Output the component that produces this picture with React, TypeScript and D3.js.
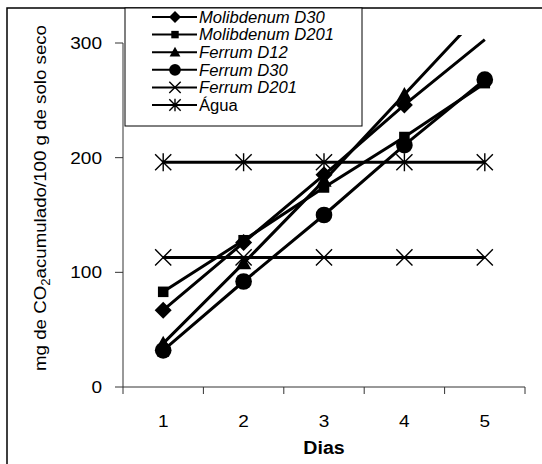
import React from "react";
import * as d3 from "d3";

const days = [1, 2, 3, 4, 5];
const yTicks = [0, 100, 200, 300];
const seriesNames = ["Molibdenum D30", "Molibdenum D201", "Ferrum D12", "Ferrum D30", "Ferrum D201", "Água"];
const molibdenumD30 = [67, 126, 185, 246, 303];
const molibdenumD201 = [83, 128, 174, 218, 265];
const ferrumD12 = [38, 108, 180, 255, 330];
const ferrumD30 = [32, 92, 150, 211, 268];
const ferrumD201 = [113, 113, 113, 113, 113];
const agua = [196, 196, 196, 196, 196];
const markers = ["diamond", "square", "triangle", "circle", "x", "asterisk"];

const seriesValues = [molibdenumD30, molibdenumD201, ferrumD12, ferrumD30, ferrumD201, agua];

const FONT = "'Liberation Sans', Arial, sans-serif";

function Marker({ type, x, y, s }: { type: string; x: number; y: number; s: number }) {
  const h = s / 2;
  switch (type) {
    case "diamond":
      return <path d={`M${x},${y - h}L${x + h},${y}L${x},${y + h}L${x - h},${y}Z`} fill="#000" />;
    case "square": {
      const q = h * 0.62;
      return <rect x={x - q} y={y - q} width={2 * q} height={2 * q} fill="#000" />;
    }
    case "triangle": {
      const w = h * 0.9;
      return <path d={`M${x},${y - w}L${x + w},${y + w * 0.8}L${x - w},${y + w * 0.8}Z`} fill="#000" />;
    }
    case "circle":
      return <circle cx={x} cy={y} r={h * 0.98} fill="#000" />;
    case "x": {
      const q = h * 0.95;
      return (
        <path d={`M${x - q},${y - q}L${x + q},${y + q}M${x - q},${y + q}L${x + q},${y - q}`} stroke="#000" strokeWidth={1.4} fill="none" />
      );
    }
    case "asterisk": {
      const q = h * 0.95;
      return (
        <path
          d={`M${x - q},${y - q}L${x + q},${y + q}M${x - q},${y + q}L${x + q},${y - q}M${x},${y - q * 1.1}L${x},${y + q * 1.1}`}
          stroke="#000"
          strokeWidth={1.4}
          fill="none"
        />
      );
    }
  }
  return null;
}

export default function App() {
  const W = 542;
  const H = 464;
  const x0 = 123;
  const x1 = 525;
  const xs = d3.scalePoint<number>().domain(days).range([x0, x1]).padding(0.5);
  const ys = d3.scaleLinear().domain([0, 300]).range([387, 43]);
  const step = xs.step();
  const line = d3
    .line<number>()
    .x((_, i) => xs(days[i]) as number)
    .y((d) => ys(d));

  const legendRowY = (i: number) => 17 + i * 17.6;

  return (
    <svg width={W} height={H} style={{ position: "absolute", left: 0, top: 0 }} fontFamily={FONT}>
      <defs>
        <clipPath id="plotClip">
          <rect x={x0} y={35} width={x1 - x0 + 20} height={387 - 35 + 10} />
        </clipPath>
      </defs>
      <rect x={0} y={0} width={W} height={H} fill="#fff" />
      <rect x={7} y={8} width={W} height={H} fill="none" stroke="#000" strokeWidth={1.5} />

      {/* axes */}
      <line x1={x0} x2={x0} y1={ys(300)} y2={ys(0)} stroke="#333" strokeWidth={1} />
      {yTicks.map((t) => (
        <g key={t}>
          <line x1={x0 - 8} x2={x0} y1={ys(t)} y2={ys(t)} stroke="#333" />
          <text transform={`translate(102,${ys(t)}) scale(1.12,1)`} dy="0.36em" textAnchor="end" fontSize={17}>
            {t}
          </text>
        </g>
      ))}
      <line x1={x0} x2={x1} y1={ys(0)} y2={ys(0)} stroke="#333" />
      {d3.range(days.length + 1).map((i) => (
        <line key={i} x1={x0 + i * step} x2={x0 + i * step} y1={ys(0)} y2={ys(0) + 7} stroke="#333" />
      ))}
      {days.map((d) => (
        <text key={d} transform={`translate(${xs(d)},427) scale(1.12,1)`} textAnchor="middle" fontSize={17}>
          {d}
        </text>
      ))}
      <text transform={`translate(${(x0 + x1) / 2},454) scale(1.12,1)`} textAnchor="middle" fontSize={17.5} fontWeight="bold">
        Dias
      </text>
      <text transform={`translate(46,198) rotate(-90) scale(1.1,1)`} textAnchor="middle" fontSize={17}>
        mg de CO
        <tspan fontSize={12} dy={4}>2</tspan>
        <tspan dy={-4}>acumulado/100 g de solo seco</tspan>
      </text>

      {/* series */}
      <g clipPath="url(#plotClip)">
        {seriesValues.map((vals, si) => (
          <path key={si} d={line(vals) as string} fill="none" stroke="#000" strokeWidth={3} />
        ))}
      </g>
      {seriesValues.map((vals, si) => (
        <g key={si}>
          {vals.map((v, i) =>
            v <= 300 ? <Marker key={i} type={markers[si]} x={xs(days[i]) as number} y={ys(v)} s={17} /> : null
          )}
        </g>
      ))}

      {/* legend */}
      <rect x={125} y={8} width={237} height={118} fill="#fff" stroke="#000" strokeWidth={1} />
      {seriesNames.map((name, i) => (
        <g key={name}>
          <line x1={152} x2={197} y1={legendRowY(i)} y2={legendRowY(i)} stroke="#000" strokeWidth={2} />
          <Marker type={markers[i]} x={175} y={legendRowY(i)} s={12} />
          <text transform={`translate(199,${legendRowY(i)}) scale(1.04,1)`} dy="0.36em" fontSize={16} fontStyle={i < 5 ? "italic" : "normal"}>
            {name}
          </text>
        </g>
      ))}
    </svg>
  );
}
